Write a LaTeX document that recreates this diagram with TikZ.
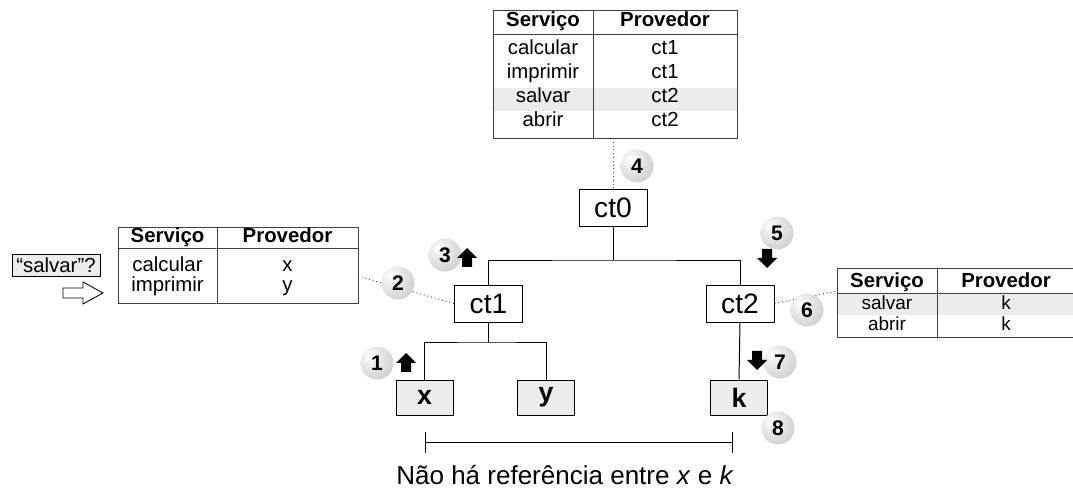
\documentclass[tikz,border=0pt]{standalone}
\usepackage{fontspec}
\setmainfont{Liberation Sans}
\usetikzlibrary{calc}

\pgfdeclareradialshading{sphere}{\pgfpoint{-12bp}{12bp}}{%
  color(0bp)=(white); color(14bp)=(white!92!black);
  color(35bp)=(white!82!black); color(50bp)=(white!74!black); color(100bp)=(white!74!black)}

\tikzset{
  ctbox/.style={draw, line width=0.7pt, minimum width=1.7cm, minimum height=0.925cm, inner sep=0pt, font=\fontsize{20}{22}\selectfont},
  leafbox/.style={draw, line width=0.7pt, fill=gray!15, minimum width=1.425cm, minimum height=0.875cm, inner sep=0pt, font=\fontsize{19}{21}\selectfont\bfseries},
  stepball/.style={circle, shade, shading=sphere, minimum size=0.825cm, inner sep=0pt, font=\fontsize{15}{16}\selectfont\bfseries},
  cell/.style={anchor=base, inner sep=0pt, font=\fontsize{14.5}{16}\selectfont},
  head/.style={cell, font=\fontsize{14.5}{16}\selectfont\bfseries},
  tightcell/.style={cell, font=\fontsize{13.5}{14}\selectfont},
  tabrule/.style={draw=black!75, line width=0.7pt},
  tree/.style={line width=0.7pt},
  hint/.style={dotted, line width=0.7pt, black!70},
  uparrow/.pic={\fill (-10,0) -- (0,-10) -- (10,0) -- (5,0) -- (5,9) -- (-5,9) -- (-5,0) -- cycle;},
  downarrow/.pic={\fill (-10,0) -- (0,10) -- (10,0) -- (5,0) -- (5,-9) -- (-5,-9) -- (-5,0) -- cycle;}
}

\begin{document}
\begin{tikzpicture}[x=0.025cm, y=-0.025cm]
\useasboundingbox (0,0) rectangle (1073,491);

% table of ct0
\fill[gray!15] (493,88) rectangle (737,111);
\draw[tabrule] (493,10) rectangle (737,138);
\draw[tabrule] (493,34) -- (737,34) (593,10) -- (593,138);
\node[head] (t0h1) at (543,27) {Serviço}; \node[head] (t0h2) at (665,27) {Provedor};
\node[cell] (t0a1) at (543,55) {calcular}; \node[cell] (t0a2) at (665,55) {ct1};
\node[cell] (t0b1) at (543,79) {imprimir}; \node[cell] (t0b2) at (665,79) {ct1};
\node[cell] (t0c1) at (543,103) {salvar}; \node[cell] (t0c2) at (665,103) {ct2};
\node[cell] (t0d1) at (543,127) {abrir}; \node[cell] (t0d2) at (665,127) {ct2};
\coordinate (t0foot) at (613,138);

% table of ct1
\draw[tabrule] (118,227) rectangle (358,303);
\draw[tabrule] (118,248) -- (358,248) (217,227) -- (217,303);
\node[head] (t1h1) at (167.5,243) {Serviço}; \node[head] (t1h2) at (287.5,243) {Provedor};
\node[cell] (t1a1) at (167.5,272) {calcular}; \node[cell] (t1a2) at (287.5,272) {x};
\node[cell] (t1b1) at (167.5,292) {imprimir}; \node[cell] (t1b2) at (287.5,292) {y};
\coordinate (t1east) at (358,276);

% table of ct2
\fill[gray!15] (837,293) rectangle (1073,315);
\draw[tabrule] (1073,268) -- (837,268) -- (837,337) -- (1073,337);
\draw[tabrule] (837,293) -- (1073,293) (937,268) -- (937,337);
\node[head] (t2h1) at (887,288) {Serviço}; \node[head] (t2h2) at (1006,288) {Provedor};
\node[tightcell] (t2a1) at (887,310) {salvar}; \node[tightcell] (t2a2) at (1006,310) {k};
\node[tightcell] (t2b1) at (887,331) {abrir}; \node[tightcell] (t2b2) at (1006,331) {k};
\coordinate (t2west) at (837,291);

% query
\node[draw, fill=gray!15, line width=0.6pt, minimum width=2.2cm, minimum height=0.55cm, inner sep=0pt, font=\fontsize{14.5}{16}\selectfont] (query) at (56,265) {“salvar”?};
\draw[line width=0.6pt] (63,288) -- (83,288) -- (83,282) -- (103,293) -- (83,304) -- (83,298) -- (63,298) -- cycle;

% tree
\node[ctbox] (ct0) at (613,207.5) {ct0};
\node[ctbox] (ct1) at (488.5,303.5) {ct1};
\node[ctbox] (ct2) at (740,303.5) {ct2};
\node[leafbox] (leafx) at (424.5,397.5) {x};
\node[leafbox] (leafy) at (546,397.5) {y};
\node[leafbox] (leafk) at (739,397.5) {k};
\coordinate (j0) at (613,260);
\coordinate (j1) at (488.5,342);
\draw[tree] (ct0.south) -- (j0);
\draw[tree] (ct1.north) |- (j0) -| (ct2.north);
\draw[tree] (ct1.south) -- (j1);
\draw[tree] (leafx.north) |- (j1) -| (leafy.north);
\draw[tree] (ct2.south) -- (leafk.north);

% dotted links
\draw[hint] (t0foot) -- (ct0.north);
\draw[hint] (t1east) -- (ct1.west);
\draw[hint] (ct2.east) -- (t2west);

% steps
\node[stepball] (s1) at (377,363) {1}; \pic at (406,363) {uparrow};
\node[stepball] (s2) at (398,283) {2};
\node[stepball] (s3) at (445,255) {3}; \pic at (467,258) {uparrow};
\node[stepball] (s4) at (637,166) {4};
\node[stepball] (s5) at (777,233) {5}; \pic at (767,258) {downarrow};
\node[stepball] (s6) at (807,310) {6};
\node[stepball] (s7) at (780,362) {7}; \pic at (757,360) {downarrow};
\node[stepball] (s8) at (778,428) {8};

% x ... k
\coordinate (bl) at (425,442);
\coordinate (br) at (732,442);
\draw[tree] (bl) -- (br);
\draw[tree] ($(bl)+(0,-10)$) -- ($(bl)+(0,11)$);
\draw[tree] ($(br)+(0,-10)$) -- ($(br)+(0,11)$);
\node[anchor=base, inner sep=0pt, font=\fontsize{18.5}{20}\selectfont] (note) at (565,484) {Não há referência entre \textit{x} e \textit{k}};
\end{tikzpicture}
\end{document}
